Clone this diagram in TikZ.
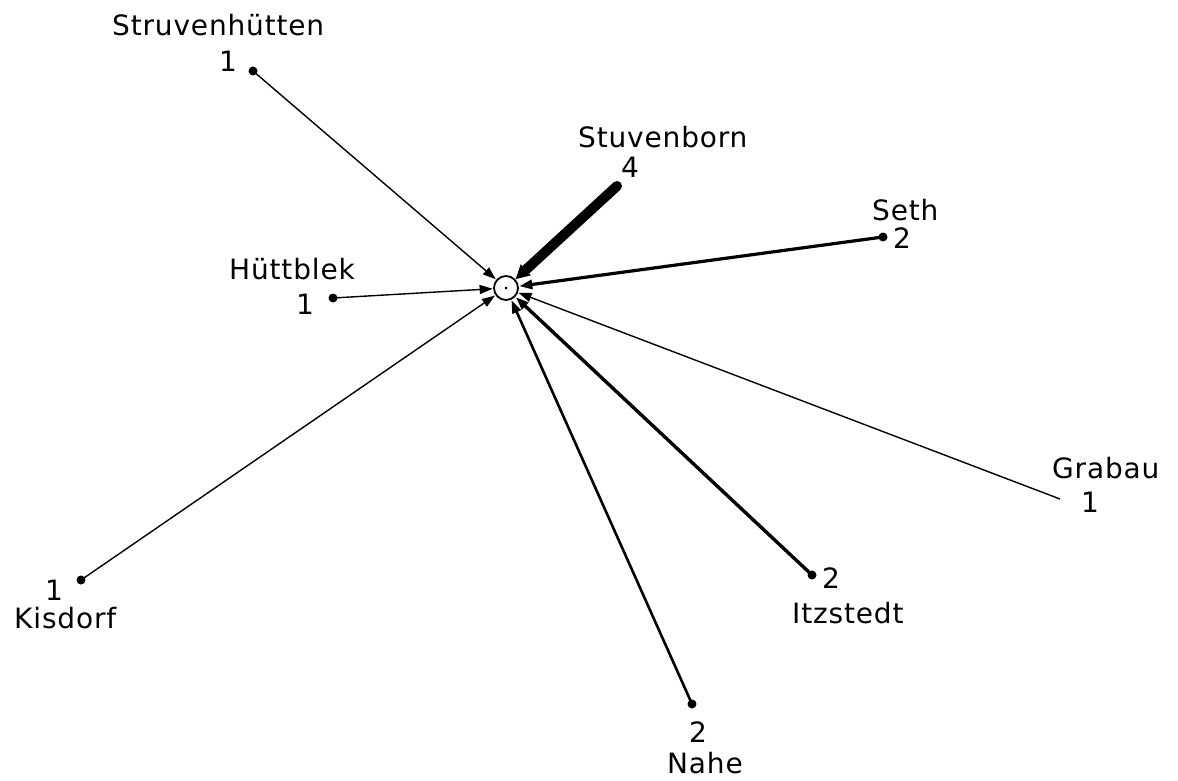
\documentclass[tikz,border=0pt]{standalone}
\usepackage{fontspec}
\setmainfont{DejaVu Sans}[LetterSpace=3]
\usetikzlibrary{arrows.meta}
\begin{document}
\begin{tikzpicture}[x=1pt,y=-1pt,
  lbl/.style={font=\fontsize{28}{32}\selectfont, inner sep=0pt, anchor=base west},
  num/.style={font=\fontsize{28}{32}\selectfont, inner sep=0pt, anchor=base},
  dotn/.style={circle,fill=black,inner sep=0pt,minimum size=9pt},
  flow/.style={-{Triangle[length=13pt,width=9pt]}, line width=1.4pt, shorten >=0.5pt},
  center/.style={circle,draw,line width=1.8pt,minimum size=24pt,inner sep=0pt}]
\useasboundingbox (0,0) rectangle (1178,781);
\node[center] (c) at (506,288) {};
\fill (c.center) circle (1.5pt);
% sources
\node[dotn] (struv) at (253,71) {};
\node[dotn] (stuv) at (617,186) {};
\node[dotn] (seth) at (883,237) {};
\node[dotn] (huett) at (333,298) {};
\node[dotn] (kis) at (81,580) {};
\node[dotn] (nahe) at (692,704) {};
\node[dotn] (itz) at (812,575) {};
\coordinate (grab) at (1060,499);
% labels
\node[lbl] (l1) at (112,36) {Struvenhütten};
\node[num] (n1) at (228,72) {1};
\node[lbl] (l2) at (578,148) {Stuvenborn};
\node[num] (n2) at (630,177) {4};
\node[lbl] (l3) at (872,220) {Seth};
\node[num] (n3) at (902,248) {2};
\node[lbl] (l4) at (229,279) {Hüttblek};
\node[num] (n4) at (305,314) {1};
\node[num] (n5) at (54,600) {1};
\node[lbl] (l5) at (14,628) {Kisdorf};
\node[num] (n6) at (698,742) {2};
\node[lbl] (l6) at (667,773) {Nahe};
\node[num] (n7) at (831,588) {2};
\node[lbl] (l7) at (792,623) {Itzstedt};
\node[lbl] (l8) at (1052,478) {Grabau};
\node[num] (n8) at (1090,512) {1};
% flows
\draw[flow] (struv.center) -- (c);
\draw[flow] (huett.center) -- (c);
\draw[flow] (kis.center) -- (c);
\draw[flow] (grab) -- (c);
\draw[flow, line width=2.6pt] (nahe.center) -- (c);
\draw[flow, line width=3.4pt] (itz.center) -- (c);
\draw[flow, line width=3.2pt] (seth.center) -- (c);
\draw[-{Triangle[length=14pt,width=14pt]}, line width=10pt, line cap=round] (stuv.center) -- (c);
\end{tikzpicture}
\end{document}
